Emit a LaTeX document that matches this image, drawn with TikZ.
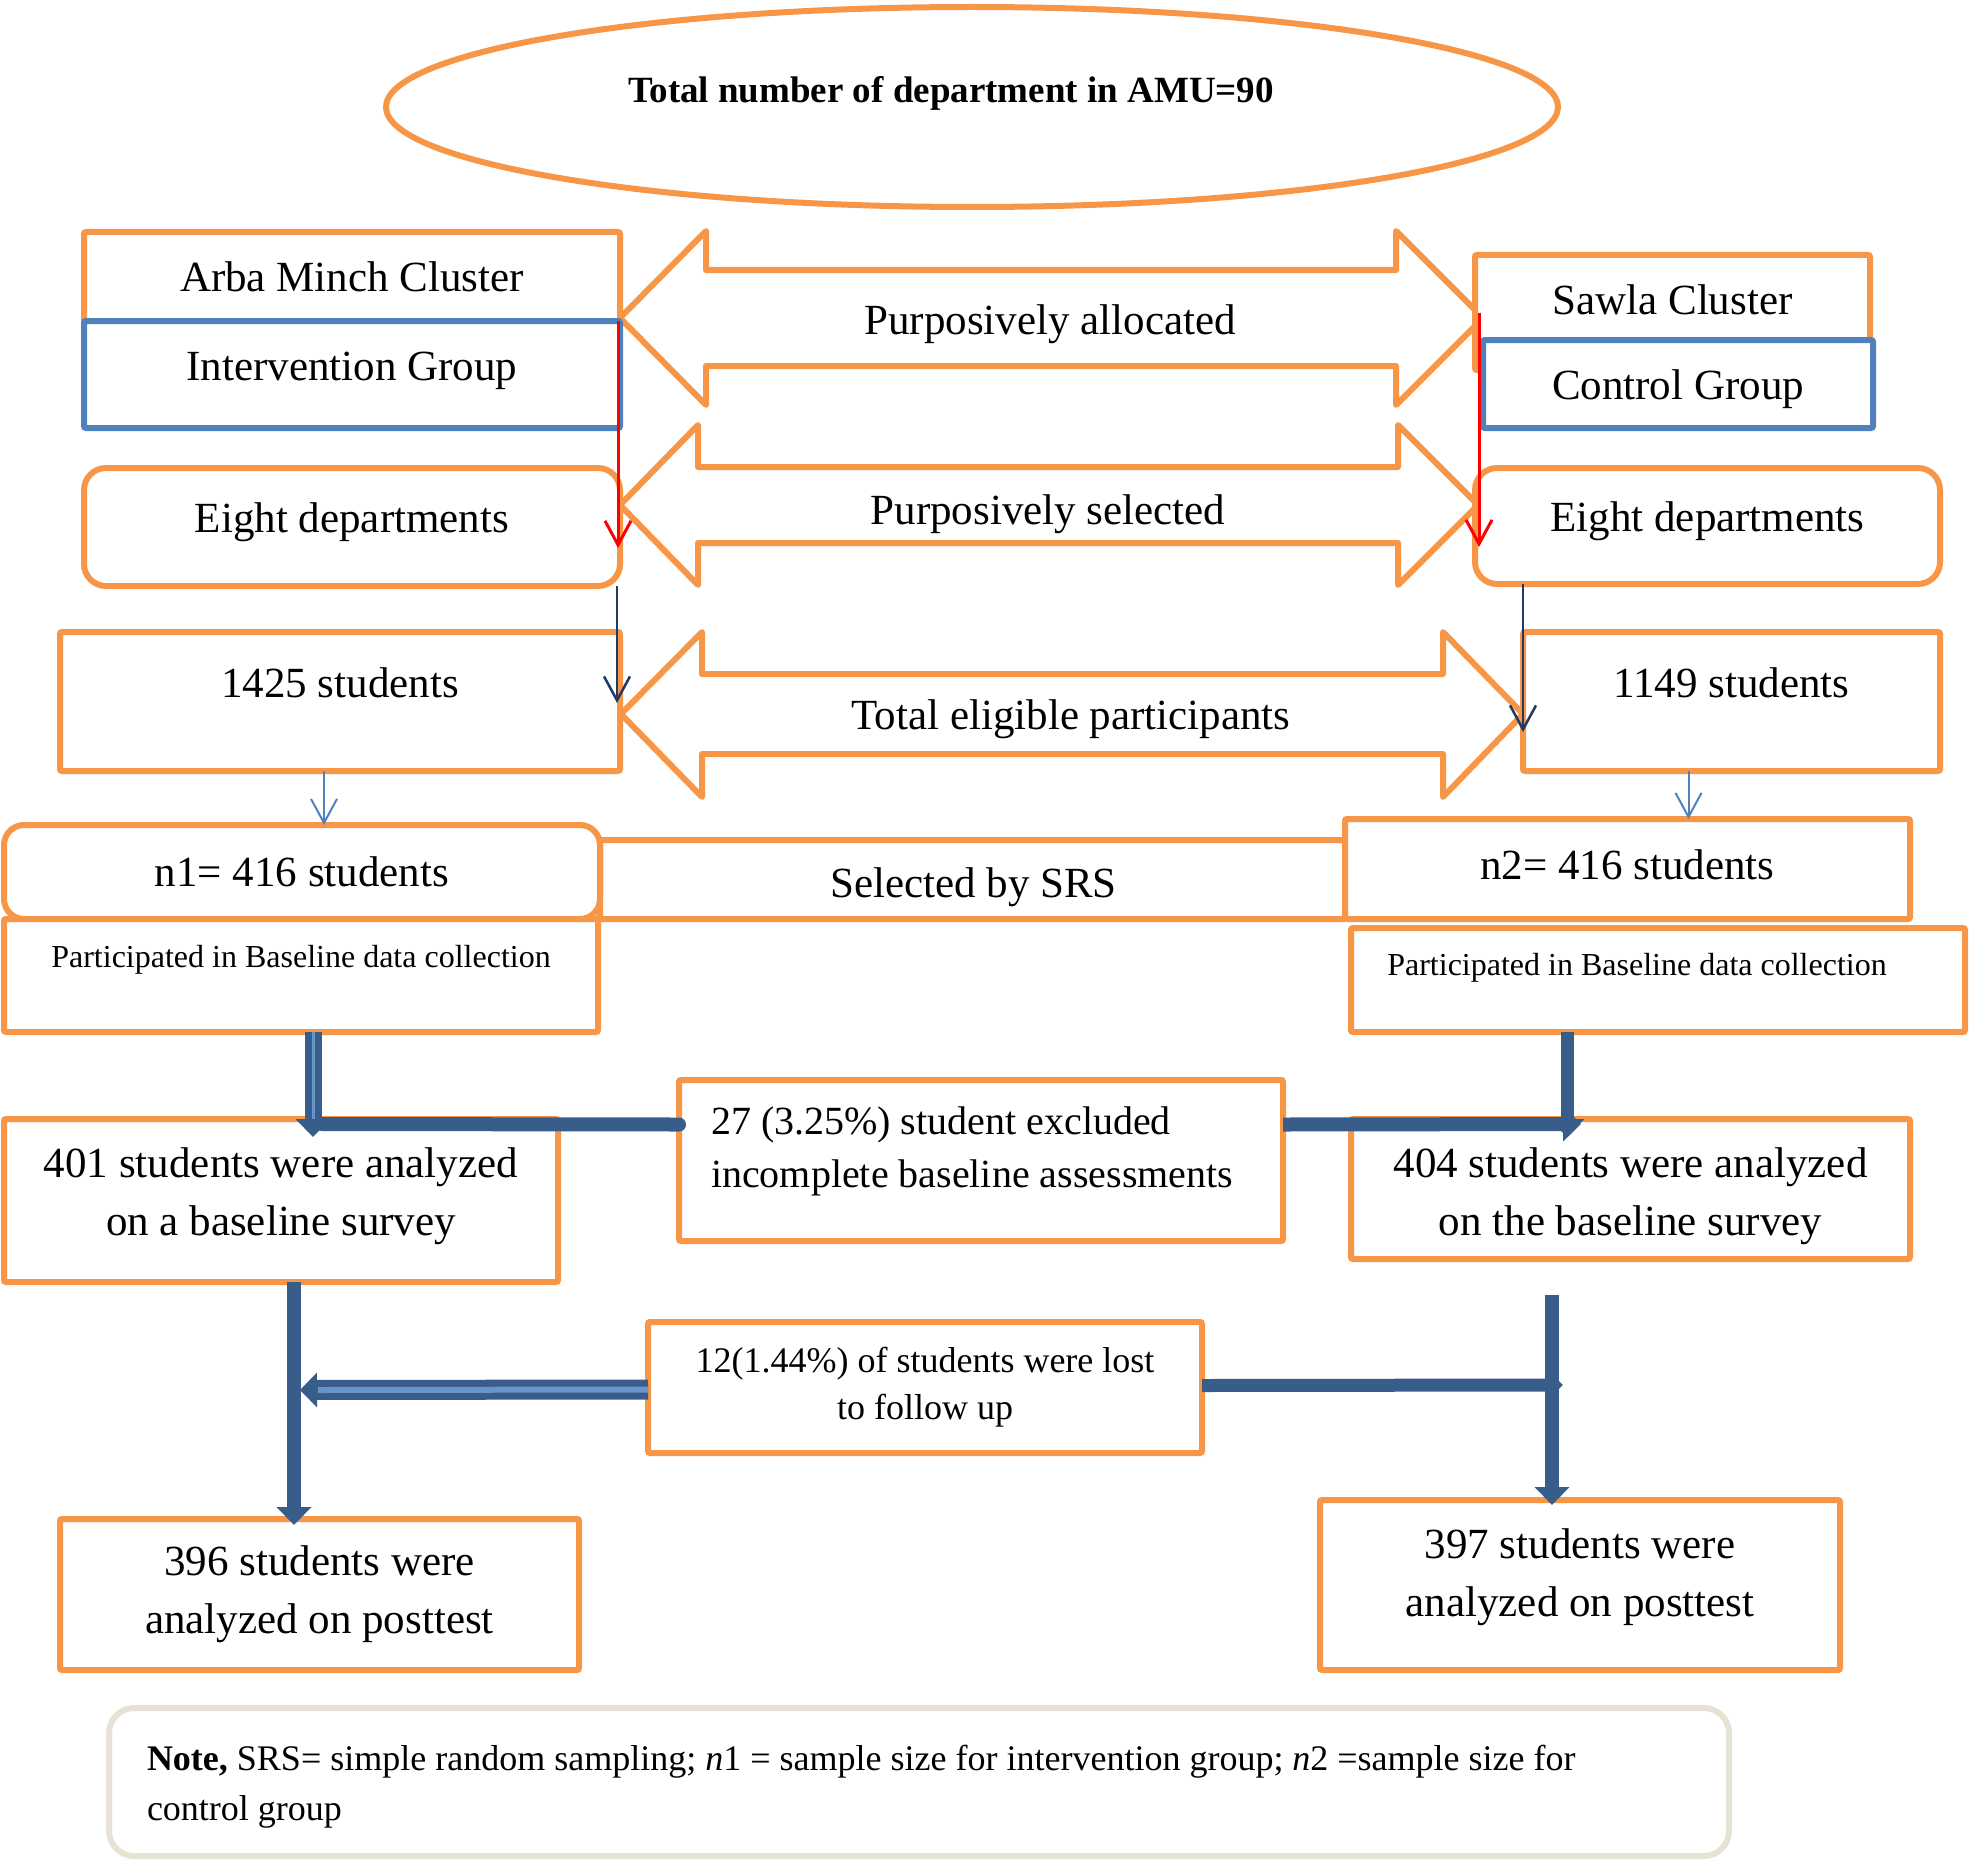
\documentclass[tikz,border=0pt]{standalone}
\usepackage{fontspec}
\setmainfont{Liberation Serif}
\usepackage{tikz}
\usetikzlibrary{shapes.geometric,arrows.meta,calc}

\definecolor{boxorange}{HTML}{F79646}
\definecolor{groupblue}{HTML}{4F81BD}
\definecolor{flownavy}{HTML}{385D8A}
\definecolor{darknavy}{HTML}{1F3A64}
\definecolor{notegrey}{HTML}{E6E3D4}

\begin{document}
\begin{tikzpicture}[x=1pt,y=-1pt]
% Define styles
\tikzstyle{box} = [rectangle, rounded corners=2, draw=boxorange, line width=6, fill=white, inner sep=0, outer sep=0, font=\fontsize{43}{58}\selectfont]
\tikzstyle{oneline} = [text height=30, text depth=10]
\tikzstyle{roundbox} = [box, oneline, rounded corners=22]
\tikzstyle{groupbox} = [box, oneline, draw=groupblue]
\tikzstyle{smallbox} = [box, font=\fontsize{32}{40}\selectfont, text height=23]
\tikzstyle{leftbox} = [box, align=left, execute at begin node={\spaceskip=0pt\relax\xspaceskip=0pt\relax}]
\tikzstyle{bigarrow} = [draw=boxorange, line width=6, fill=white, line join=round]
\tikzstyle{arrowtext} = [font=\fontsize{43}{58}\selectfont, text height=30, text depth=10]
\tikzstyle{pointer} = [line width=2.5, -{Straight Barb[length=24pt,width=26pt]}]
\tikzstyle{flow} = [draw=flownavy, line width=14, -{Triangle[width=34pt,length=18pt]}]
\tikzstyle{flowline} = [draw=flownavy, line width=14, line cap=round]
\tikzstyle{stripe} = [draw=groupblue!85!white, line width=3]

\useasboundingbox (0,0) rectangle (1969,1862);

% Draw block arrows
\draw [bigarrow] (620,318) -- (706,231) -- (706,270) -- (1396,270) -- (1396,231) -- (1483,318) -- (1396,405) -- (1396,366) -- (706,366) -- (706,405) -- cycle;
\draw [bigarrow] (620,505) -- (698,425) -- (698,467) -- (1398,467) -- (1398,425) -- (1478,505) -- (1398,585) -- (1398,543) -- (698,543) -- (698,585) -- cycle;
\draw [bigarrow] (621,714) -- (702,632) -- (702,674) -- (1443,674) -- (1443,632) -- (1523,714) -- (1443,797) -- (1443,754) -- (702,754) -- (702,797) -- cycle;
\node (alloc) [arrowtext] at (1050,324) {Purposively allocated};
\node (select) [arrowtext] at (1048,514) {Purposively selected};
\node (elig) [arrowtext] at (1071,719) {Total eligible participants};

% Draw nodes
\node (amu) [ellipse, draw=boxorange, line width=6, minimum width=1172, minimum height=200, font=\fontsize{37}{44}\selectfont\bfseries, text height=26, text depth=35] at (972,107) {Total number of department in AMU=90\hspace*{42pt}};
\node (arba) [box, oneline, text depth=2, minimum width=536, minimum height=90] at (352,277) {Arba Minch Cluster};
\node (ig) [groupbox, text depth=18, minimum width=536, minimum height=107] at (352,374.5) {Intervention Group};
\node (ed1) [roundbox, text depth=20, minimum width=536, minimum height=118] at (352,527) {Eight departments};
\node (s1425) [box, oneline, text depth=38, minimum width=560, minimum height=139] at (340,701.5) {1425 students};
\node (sawla) [box, oneline, text depth=26, minimum width=395, minimum height=115] at (1672.5,312.5) {Sawla Cluster};
\node (cg) [groupbox, text height=40, minimum width=390, minimum height=88] at (1678,384) {Control Group};
\node (ed2) [roundbox, text depth=20, minimum width=465, minimum height=116] at (1707.5,526) {Eight departments};
\node (s1149) [box, oneline, text depth=38, minimum width=417, minimum height=139] at (1731.5,701.5) {1149 students};
\node (srs) [box, text height=35, text depth=0, minimum width=747, minimum height=79] at (973.5,879.5) {Selected by SRS};
\node (n1) [roundbox, rounded corners=20, text height=36, text depth=8, minimum width=596, minimum height=94] at (302,872) {n1= 416 students};
\node (n2) [box, oneline, minimum width=565, minimum height=100] at (1627.5,869) {n2= 416 students};
\node (p1) [smallbox, text depth=39, minimum width=594, minimum height=113] at (301,975.5) {Participated in Baseline data collection};
\node (p2) [smallbox, text depth=33, minimum width=614, minimum height=104] at (1658,980) {Participated in Baseline data collection\hspace*{42pt}};
\node (b401) [box, align=center, minimum width=554, minimum height=163] at (281,1200.5) {401 students were analyzed\\on a baseline survey\rule[-17pt]{0pt}{17pt}};
\node (exc) [leftbox, font=\fontsize{40}{53}\selectfont, text width=540, minimum width=604, minimum height=161] at (981,1160.5) {27 (3.25\%) student excluded\\incomplete baseline assessments\rule[-26pt]{0pt}{26pt}};
\node (b404) [box, align=center, minimum width=559, minimum height=140] at (1630.5,1189) {\rule{0pt}{45pt}404 students were analyzed\\on the baseline survey};
\node (lost) [box, font=\fontsize{36}{47}\selectfont, align=center, minimum width=554, minimum height=131] at (925,1387.5) {12(1.44\%) of students were lost\\to follow up};
\node (b396) [box, align=center, minimum width=519, minimum height=151] at (319.5,1594.5) {396 students were\\analyzed on posttest};
\node (b397) [box, align=center, minimum width=520, minimum height=170] at (1580,1585) {397 students were\\analyzed on posttest\rule[-24pt]{0pt}{24pt}};
\node (note) [leftbox, draw=notegrey, rounded corners=25, font=\fontsize{36}{50}\selectfont, text width=1544, minimum width=1620, minimum height=148] at (919,1782) {\rule{0pt}{35pt}\textbf{Note,} SRS= simple random sampling; \textit{n}1 = sample size for intervention group; \textit{n}2 =sample size for\\control group};

% Draw thin arrows
\draw [pointer, red, line width=3] ($(ig.north east)+(-2,0)$) -- ($(ed1.east)+(-2,21)$);
\draw [pointer, red, line width=3] ($(sawla.west)+(4,0)$) -- ($(ed2.west)+(4,21)$);
\draw [pointer, darknavy] ($(ed1.south east)+(-3,0)$) -- ($(s1425.north east)+(-3,71)$);
\draw [pointer, darknavy] ($(ed2.south west)+(48,0)$) -- ($(s1149.north west)+(0,100)$);
\draw [pointer, groupblue, line width=2] ($(s1425.south)+(-16,0)$) -- ($(s1425.south |- n1.north)+(-16,0)$);
\draw [pointer, groupblue, line width=2] ($(s1149.south)+(-43,0)$) -- ($(s1149.south |- n2.north)+(-43,0)$);

% Draw thick arrows
\coordinate (j1) at (322,1124);
\coordinate (j2) at (1581,1124);
\coordinate (j3) at (300,1390);
\coordinate (j4) at (1563,1385);
\coordinate (j5) at (1552,1295);
\draw [flow, line width=17] ($(p1.south)+(12,0)$) -- ($(p1.south |- b401.north)+(12,18)$);
\draw [stripe] ($(p1.south)+(12,0)$) -- ($(p1.south |- b401.north)+(12,0)$);
\draw [flowline] ($(exc.west)+(0,-36)$) -- (j1);
\draw [flow] ($(exc.east)+(0,-36)$) -- (j2);
\draw [flow, line width=13] ($(p2.south)+(-91,0)$) -- ($(p2.south |- b404.north)+(-91,18)$);
\draw [flow] ($(b401.south)+(13,0)$) -- ($(b401.south |- b396.north)+(13,6)$);
\draw [flow, line width=20, -{Triangle[width=34pt,length=17pt]}] ($(lost.west)+(0,2)$) -- (j3);
\draw [stripe, line width=6] ($(lost.west)+(0,2)$) -- ($(j3)+(18,0)$);
\draw [flow, line width=13] ($(lost.east)+(0,-2)$) -- (j4);
\draw [flow] (j5) -- ($(j5 |- b397.north)+(0,5)$);

\end{tikzpicture}
\end{document}
